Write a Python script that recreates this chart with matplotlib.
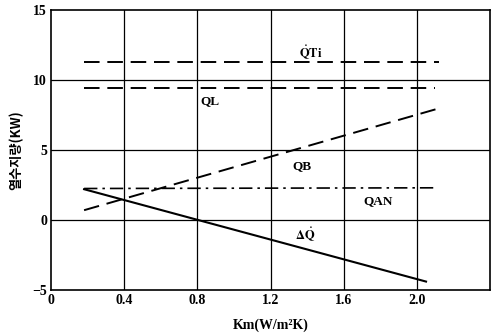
import matplotlib
matplotlib.use("Agg")
import matplotlib.pyplot as plt

plt.rcParams["mathtext.fontset"] = "stix"

# Heat balance components vs. Km
km_range = [0.18, 2.12]
qti = [11.3, 11.3]
ql_x = [0.18, 2.1]
ql = [9.4, 9.4]
qb_x = [0.18, 2.14]
qb = [0.7, 8.05]
qan_x = [0.18, 2.1]
qan = [2.25, 2.3]
dq_x = [0.18, 2.05]
dq = [2.2, -4.4]

xticks = [0, 0.4, 0.8, 1.2, 1.6, 2.0]
xtick_labels = ["0", "0.4", "0.8", "1.2", "1.6", "2.0"]
yticks = [-5, 0, 5, 10, 15]
ytick_labels = ["\u22125", "0", "5", "10", "15"]

serif = ["Liberation Serif", "DejaVu Serif"]

fig = plt.figure(figsize=(4.92, 3.36), dpi=100)
ax = fig.add_axes([0.104, 0.137, 0.892, 0.833])

ax.set_xlim(0, 2.4)
ax.set_ylim(-5, 15)

for gx in xticks[1:]:
    ax.axvline(gx, color="black", lw=0.9, zorder=1)
for gy in [0, 5, 10]:
    ax.axhline(gy, color="black", lw=0.9, zorder=1)

ax.plot(km_range, qti, color="black", lw=1.4, dashes=(8, 4))
ax.plot(ql_x, ql, color="black", lw=1.4, dashes=(8, 4))
ax.plot(qb_x, qb, color="black", lw=1.4, dashes=(8, 4))
ax.plot(qan_x, qan, color="black", lw=1.2, dashes=(8, 3, 1.5, 3))
ax.plot(dq_x, dq, color="black", lw=1.5)

lab = dict(fontfamily=serif, fontsize=9.5, fontweight="bold", ha="center", va="center")
ax.text(1.42, 12.0, r"$\mathbf{\dot{Q}Ti}$", fontsize=9, ha="center", va="center")
ax.text(0.87, 8.5, "QL", **lab)
ax.text(1.37, 3.85, "QB", **lab)
ax.text(1.79, 1.35, "QAN", **lab)
ax.text(1.39, -1.0, r"$\mathbf{\Delta\dot{Q}}$", fontsize=9, ha="center", va="center")

ax.set_xticks(xticks)
ax.set_xticklabels(xtick_labels, fontfamily=serif, fontsize=10, fontweight="bold")
ax.set_yticks(yticks)
ax.set_yticklabels(ytick_labels, fontfamily=serif, fontsize=10, fontweight="bold")
ax.tick_params(length=0, pad=3)

ax.set_xlabel("Km(W/m\u00b2K)", fontfamily=serif, fontsize=10, fontweight="bold", labelpad=8)
ax.set_ylabel("열수지량(KW)", fontfamily=["Noto Sans CJK KR", "DejaVu Sans"],
              fontsize=9.5, fontweight="bold", labelpad=6)

for s in ax.spines.values():
    s.set_linewidth(1.2)

fig.savefig("out.png", dpi=100)
